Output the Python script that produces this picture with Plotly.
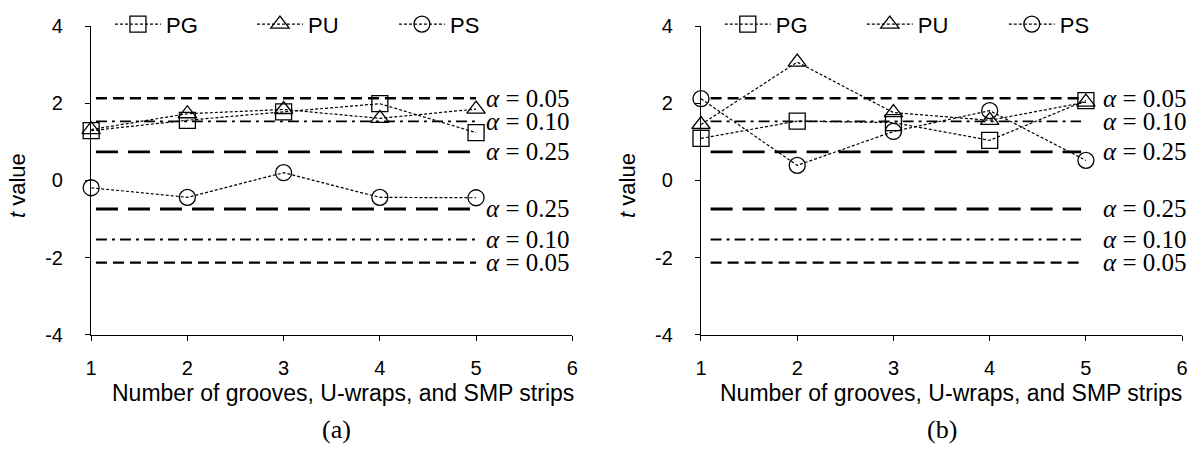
import plotly.graph_objects as go

# Number of grooves, U-wraps and SMP strips
counts = [1, 2, 3, 4, 5]

# t values, panel (a)
pg_a = [1.29, 1.56, 1.78, 1.99, 1.24]
pu_a = [1.32, 1.73, 1.84, 1.61, 1.85]
ps_a = [-0.19, -0.44, 0.20, -0.44, -0.45]

# t values, panel (b)
pg_b = [1.09, 1.54, 1.50, 1.04, 2.07]
pu_b = [1.45, 3.07, 1.76, 1.56, 2.03]
ps_b = [2.12, 0.39, 1.27, 1.81, 0.52]

# critical t values (df = 4) and their significance levels
t_crit = [2.132, 1.533, 0.741, -0.741, -1.533, -2.132]
alpha_labels = ["0.05", "0.10", "0.25", "0.25", "0.10", "0.05"]
crit_dash = ["11px,6px", "11px,5px,3px,5px", "22px,10px",
             "22px,10px", "11px,5px,3px,5px", "11px,6px"]
crit_width = [2.4, 1.8, 2.8, 2.8, 1.8, 2.4]

x_ticks = [1, 2, 3, 4, 5, 6]
y_ticks = [-4, -2, 0, 2, 4]
y_tick_text = ["-4", "-2", "0", "2", "4"]

series_names = ["PG", "PU", "PS"]
symbols = ["square-open", "triangle-up-open", "circle-open"]

SANS = "Arial"
SERIF = "Times New Roman"
W, H = 1202, 456

fig = go.Figure()

panels = [
    dict(xa="x", ya="y", legend="legend", data=[pg_a, pu_a, ps_a],
         span=[1.05, 5.0], label_x=5.08),
    dict(xa="x2", ya="y2", legend="legend2", data=[pg_b, pu_b, ps_b],
         span=[1.1, 4.95], label_x=5.16),
]

for p in panels:
    # horizontal critical-value lines
    for tv, dash, lw in zip(t_crit, crit_dash, crit_width):
        fig.add_trace(go.Scatter(
            x=p["span"], y=[tv, tv], mode="lines",
            line=dict(color="black", width=lw, dash=dash),
            xaxis=p["xa"], yaxis=p["ya"], showlegend=False, hoverinfo="skip"))
    # measured t values
    for name, sym, vals in zip(series_names, symbols, p["data"]):
        fig.add_trace(go.Scatter(
            x=counts, y=vals, name=name, mode="lines+markers",
            line=dict(color="black", width=1.2, dash="3px,2px"),
            marker=dict(symbol=sym, size=16, color="black",
                        line=dict(color="black", width=1.3)),
            xaxis=p["xa"], yaxis=p["ya"], legend=p["legend"],
            cliponaxis=False))
    # α labels beside the lines
    for tv, lab in zip(t_crit, alpha_labels):
        fig.add_annotation(
            x=p["label_x"], y=tv, xref=p["xa"], yref=p["ya"],
            text=f"<i>α</i> = {lab}", showarrow=False,
            xanchor="left", yanchor="middle",
            font=dict(family=SERIF, size=25, color="black"))

axis_common = dict(showline=True, linecolor="black", linewidth=1.3,
                   ticks="outside", ticklen=5, tickcolor="black", tickwidth=1.3,
                   showgrid=False, zeroline=False,
                   tickfont=dict(family=SANS, size=20, color="black"))

x_dom_a = [86 / W, 572 / W]
x_dom_b = [702 / W, 1188 / W]
y_dom = [1 - 340 / H, 1 - 16 / H]

xa_common = dict(range=[1, 6], tickvals=x_ticks, ticklabelstandoff=10, **axis_common)
ya_common = dict(domain=y_dom, range=[-4, 4], tickvals=y_ticks, ticktext=y_tick_text,
                 ticklabelstandoff=18, **axis_common)
legend_common = dict(orientation="h", xanchor="left", yanchor="middle",
                     bgcolor="rgba(0,0,0,0)", entrywidth=81, itemwidth=46,
                     font=dict(family=SANS, size=22, color="black"))

fig.update_layout(
    width=W, height=H,
    margin=dict(l=0, r=0, t=0, b=0),
    paper_bgcolor="white", plot_bgcolor="white",
    xaxis=dict(domain=x_dom_a, anchor="y", **xa_common),
    yaxis=dict(anchor="x", **ya_common),
    xaxis2=dict(domain=x_dom_b, anchor="y2", **xa_common),
    yaxis2=dict(anchor="x2", **ya_common),
    legend=dict(x=105 / W, y=1 - 14 / H, **legend_common),
    legend2=dict(x=(105 + 616) / W, y=1 - 14 / H, **legend_common),
)

# axis titles and panel captions
for right_px, cap, cx in [(576, "(a)", 334), (1190, "(b)", 945)]:
    fig.add_annotation(x=right_px / W, y=1 - 401 / H, xref="paper", yref="paper",
                       text="Number of grooves, U-wraps, and SMP strips",
                       showarrow=False, xanchor="right", yanchor="middle",
                       font=dict(family=SANS, size=23, color="black"))
    fig.add_annotation(x=cx / W, y=1 - 440 / H, xref="paper", yref="paper",
                       text=cap, showarrow=False, xanchor="center", yanchor="middle",
                       font=dict(family=SERIF, size=26, color="black"))

for ax_x in [11, 11 + 616]:
    fig.add_annotation(x=ax_x / W, y=1 - 183 / H, xref="paper", yref="paper",
                       text="<i>t</i> value", textangle=-90, showarrow=False,
                       xanchor="center", yanchor="middle",
                       font=dict(family=SANS, size=22, color="black"))

fig.write_html("out.html")
